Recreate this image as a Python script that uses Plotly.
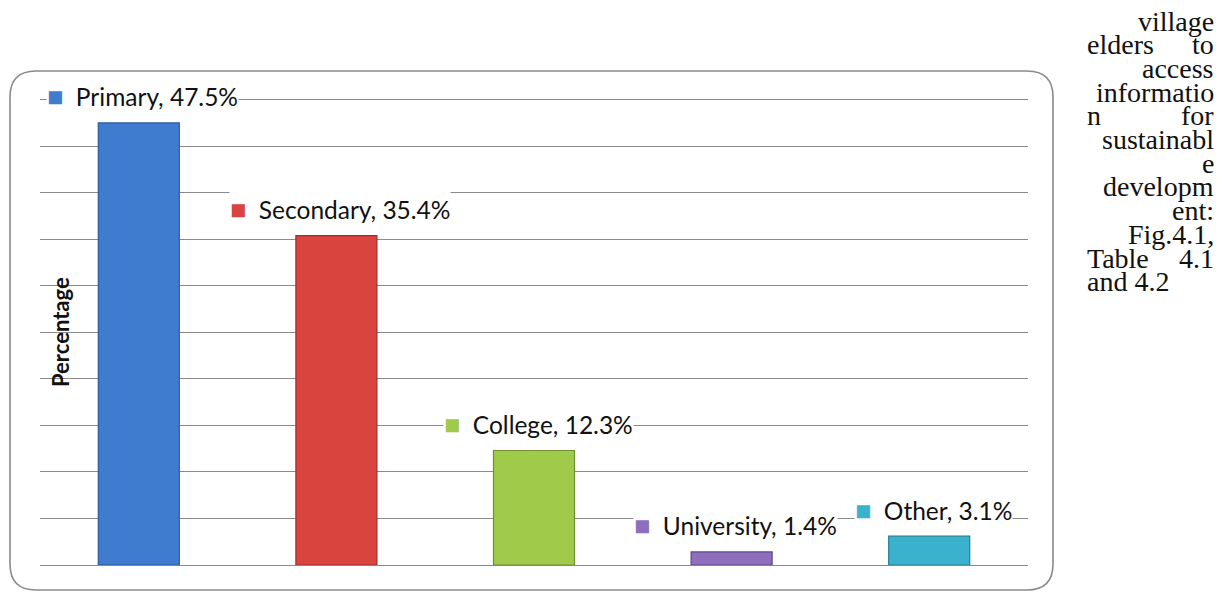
import plotly.graph_objects as go

categories = ["Primary", "Secondary", "College", "University", "Other"]
values = [47.5, 35.4, 12.3, 1.4, 3.1]
colors = ["#3f7cd0", "#d9443f", "#9fca4a", "#8d6fbd", "#3ab1cd"]
edge_colors = ["#2a5a9c", "#9e2d2a", "#6f9030", "#5e4588", "#267f96"]
side_lines = [
    ("village", None), ("elders", "to"), ("access", None), ("informatio", None),
    ("n", "for"), ("sustainabl", None), ("e", None), ("developm", None),
    ("ent:", None), ("Fig.4.1,", None), ("Table", "4.1"), ("and 4.2", "L"),
]

OFF = 8  # page body margin
W, H = 1226 - OFF, 592 - OFF
# plot area in screenshot pixels
PX0, PX1, PY0, PY1 = 40, 1028, 95, 565
L, T = PX0 - OFF, PY0 - OFF
R, B = W - (PX1 - OFF), H - (PY1 - OFF)
pw, ph = W - L - R, H - T - B


def px2x(px):
    return (px - OFF - L) / pw


def py2y(py):
    return (H - B - (py - OFF)) / ph


fig = go.Figure()

fig.add_trace(go.Bar(
    x=list(range(len(categories))), y=values, width=0.41,
    marker=dict(color=colors, line=dict(color=edge_colors, width=1.2)),
    hoverinfo="skip", showlegend=False,
))

font_lbl = "Lato, Carlito, Calibri, sans-serif"
for i, (c, v) in enumerate(zip(categories, values)):
    fig.add_annotation(
        x=i, y=v, xref="x", yref="y",
        text=f'<span style="color:{colors[i]};font-size:27px">■</span>  {c}, {v}%',
        showarrow=False, xanchor="center", yanchor="middle",
        xshift=4, yshift=27, bgcolor="white", borderpad=0,
        font=dict(family=font_lbl, size=24.5, color="#111111"),
    )

# y axis title inside plot
fig.add_annotation(
    x=px2x(60), y=py2y(332), xref="paper", yref="paper",
    text="<b>Percentage</b>", textangle=-90, showarrow=False,
    xanchor="center", yanchor="middle",
    font=dict(family=font_lbl, size=22, color="#111111"),
)

# rounded frame
x0, x1, y0, y1 = px2x(10), px2x(1053), py2y(590), py2y(71)
rx, ry = 26 / pw, 26 / ph
path = (f"M {x0+rx},{y1} L {x1-rx},{y1} Q {x1},{y1} {x1},{y1-ry} "
        f"L {x1},{y0+ry} Q {x1},{y0} {x1-rx},{y0} L {x0+rx},{y0} "
        f"Q {x0},{y0} {x0},{y0+ry} L {x0},{y1-ry} Q {x0},{y1} {x0+rx},{y1} Z")
fig.add_shape(type="path", path=path, xref="paper", yref="paper",
              line=dict(color="#8a8a8a", width=1.6), layer="above")

# right-side justified text
left_px, right_px = 1085, 1216
base0, step = 21, 23.7
f = dict(family="Liberation Serif, Times New Roman, serif", size=28, color="#111111")
for k, (a, b) in enumerate(side_lines):
    yy = py2y(base0 + k * step)
    if b is None:
        fig.add_annotation(x=px2x(right_px), y=yy, xref="paper", yref="paper",
                           text=a, showarrow=False, xanchor="right", yanchor="middle", font=f)
    elif b == "L":
        fig.add_annotation(x=px2x(left_px), y=yy, xref="paper", yref="paper",
                           text=a, showarrow=False, xanchor="left", yanchor="middle", font=f)
    else:
        fig.add_annotation(x=px2x(left_px), y=yy, xref="paper", yref="paper",
                           text=a, showarrow=False, xanchor="left", yanchor="middle", font=f)
        fig.add_annotation(x=px2x(right_px), y=yy, xref="paper", yref="paper",
                           text=b, showarrow=False, xanchor="right", yanchor="middle", font=f)

fig.update_layout(
    width=W, height=H, margin=dict(l=L, r=R, t=T, b=B),
    paper_bgcolor="white", plot_bgcolor="white",
    xaxis=dict(range=[-0.5, 4.5], showticklabels=False, showgrid=False,
               zeroline=False, showline=False, ticks=""),
    yaxis=dict(range=[0, 50.5], tick0=0, dtick=5, showticklabels=False, showgrid=True,
               gridcolor="#8a8a8a", gridwidth=1, zeroline=True, zerolinecolor="#8a8a8a",
               zerolinewidth=1.2, showline=False, ticks=""),
)
fig.write_html("out.html")
